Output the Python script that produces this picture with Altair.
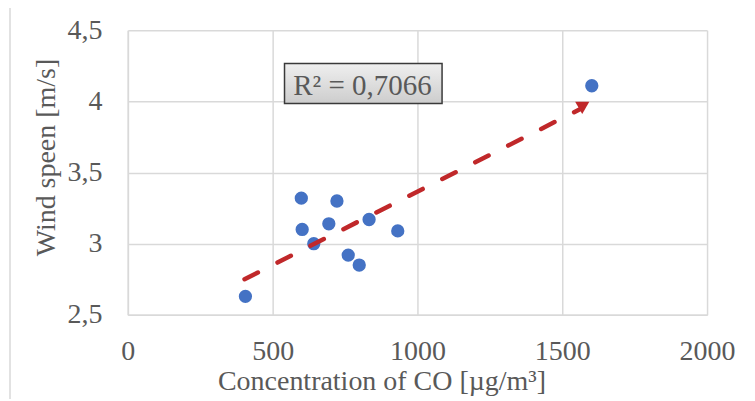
import altair as alt
import pandas as pd

# Observations: concentration of CO [µg/m³] vs wind speed [m/s]
co = [406, 599, 722, 602, 694, 642, 833, 932, 761, 799, 1602]
wind = [2.63, 3.32, 3.30, 3.10, 3.14, 3.00, 3.17, 3.09, 2.92, 2.85, 4.11]

# Trendline (dashed, with arrow head)
trend_x = [403, 1566]
trend_y = [2.75, 3.95]
arrow_x = [1569]
arrow_y = [3.955]

# R² annotation
r2_text = ["R² = 0,7066"]
r2_x = [810]
r2_y = [4.044]
r2_box_x = [541]
r2_box_x2 = [1085]
r2_box_y = [3.986]
r2_box_y2 = [4.266]

x_ticks = [0, 500, 1000, 1500, 2000]
y_ticks = [2.5, 3, 3.5, 4, 4.5]

FONT = "'Liberation Serif', 'Times New Roman', serif"
GREY_TXT = "#595959"
GRID = "#d9d9d9"

pts = pd.DataFrame({"x": co, "y": wind})
trend = pd.DataFrame({"x": trend_x, "y": trend_y})
arrow = pd.DataFrame({"x": arrow_x, "y": arrow_y})
label = pd.DataFrame({"x": r2_x, "y": r2_y, "t": r2_text})
box = pd.DataFrame({"x": r2_box_x, "x2": r2_box_x2, "y": r2_box_y, "y2": r2_box_y2})
frame = pd.DataFrame({"a": [0]})

x_axis = alt.Axis(
    values=x_ticks, title="Concentration of CO [µg/m³]", format="d",
    grid=True, gridColor=GRID, gridWidth=1.5,
    domain=True, domainColor=GRID, domainWidth=1.5,
    ticks=False, tickSize=0, labelFlush=False,
    labelFont=FONT, labelFontSize=28, labelColor=GREY_TXT, labelPadding=23,
    titleFont=FONT, titleFontSize=28, titleFontWeight="normal", titleColor=GREY_TXT,
    titleX=254, titleY=75, titleBaseline="alphabetic", titleAlign="center",
)
y_axis = alt.Axis(
    values=y_ticks, title="Wind speen [m/s]",
    labelExpr="replace(toString(datum.value), '.', ',')",
    grid=True, gridColor=GRID, gridWidth=1.5,
    domain=True, domainColor=GRID, domainWidth=1.5,
    ticks=False, tickSize=0, labelFlush=False,
    labelFont=FONT, labelFontSize=28, labelColor=GREY_TXT, labelPadding=26,
    titleFont=FONT, titleFontSize=28, titleFontWeight="normal", titleColor=GREY_TXT,
    titleX=-73, titleY=127, titleAngle=270, titleBaseline="alphabetic", titleAlign="center",
)

xs = alt.Scale(domain=[0, 2000], nice=False, zero=False)
ys = alt.Scale(domain=[2.5, 4.5], nice=False, zero=False)

X = alt.X("x:Q", scale=xs, axis=x_axis)
Y = alt.Y("y:Q", scale=ys, axis=y_axis)

frame_layer = alt.Chart(frame).mark_rect(
    fillOpacity=0, stroke=GRID, strokeWidth=1.5
).encode(x=alt.value(-118), x2=alt.value(700), y=alt.value(-25), y2=alt.value(440))

points = alt.Chart(pts).mark_circle(size=177, color="#4472c4", opacity=1).encode(x=X, y=Y)

line = alt.Chart(trend).mark_line(
    color="#c0282a", strokeWidth=4.5, strokeDash=[15, 22], strokeCap="round"
).encode(x=X, y=Y)

head = alt.Chart(arrow).mark_point(
    shape="triangle-down", filled=True, size=200, color="#c0282a", opacity=1
).encode(x=X, y=Y)

rect = alt.Chart(box).mark_rect(
    fill=alt.Gradient(gradient="linear",
                      stops=[alt.GradientStop(color="#efefef", offset=0),
                             alt.GradientStop(color="#cdcdcd", offset=1)],
                      x1=0, x2=0, y1=0, y2=1),
    stroke="#3a3a3a", strokeWidth=1.5,
).encode(x=X, x2="x2:Q", y=Y, y2="y2:Q")

text = alt.Chart(label).mark_text(
    font=FONT, fontSize=29, color=GREY_TXT, align="center", baseline="alphabetic"
).encode(x=X, y=Y, text="t:N")

chart = alt.layer(frame_layer, points, line, head, rect, text).properties(
    width=580, height=285,
    autosize=alt.AutoSizeParams(type="none"),
    padding={"left": 120, "top": 22, "right": 40, "bottom": 84},
).configure_view(stroke=None)

chart.save("out.html", embed_options={"renderer": "svg", "actions": False})
